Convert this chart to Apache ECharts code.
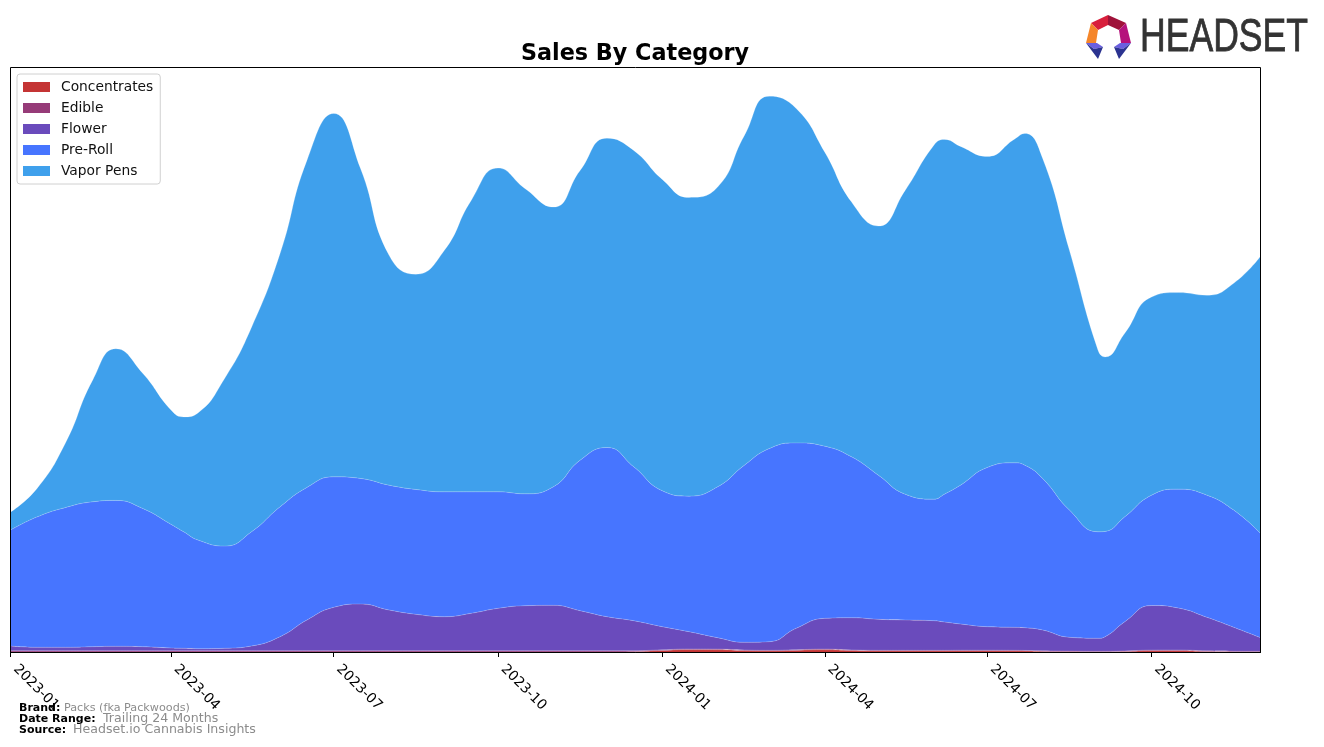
<!DOCTYPE html>
<html>
<head>
<meta charset="utf-8">
<title>Sales By Category</title>
<style>
  html, body { margin: 0; padding: 0; background: #fff; }
  #chart { width: 1324px; height: 747px; }
</style>
</head>
<body>
<div id="chart"></div>
<script src="https://cdn.jsdelivr.net/npm/echarts@6/dist/echarts.min.js"></script>
<script>
const dates = [
  '2023-01-01', '2023-01-16', '2023-02-01', '2023-02-16', '2023-03-01', '2023-03-16', '2023-04-01', '2023-04-08', '2023-04-16',
  '2023-05-01', '2023-05-16', '2023-06-01', '2023-06-16', '2023-07-01', '2023-07-16', '2023-08-01', '2023-08-16',
  '2023-09-01', '2023-09-16', '2023-10-01', '2023-10-16', '2023-11-01', '2023-11-16', '2023-12-01', '2023-12-16',
  '2024-01-01', '2024-01-16', '2024-02-01', '2024-02-16', '2024-03-01', '2024-03-16', '2024-04-01', '2024-04-16',
  '2024-05-01', '2024-05-16', '2024-06-01', '2024-06-07', '2024-06-16', '2024-07-01', '2024-07-16', '2024-07-22', '2024-08-01',
  '2024-08-16', '2024-09-01', '2024-09-05', '2024-09-16', '2024-10-01', '2024-10-16', '2024-11-01', '2024-11-16',
  '2024-12-01'
]
const tickMonths = ['2023-01', '2023-04', '2023-07', '2023-10', '2024-01', '2024-04', '2024-07', '2024-10']

// No y scale in the picture, values are in chart height units
const concentrates = [
  0, 0, 0, 0, 0, 0, 0, 0, 0,
  0, 0, 0, 0, 0, 0, 0, 0,
  0, 0, 0, 0, 0, 0, 0, 0.3,
  1.5, 2.3, 2.2, 1.3, 1, 1.6, 2.2, 1.4,
  1, 1, 1, 1, 1.1, 1.1, 1, 0.9, 0.6,
  0.2, 0, 0, 0.4, 1.2, 1.3, 0.5, 0.1,
  0
]
const edible = [
  1.3, 1.3, 1.3, 1.3, 1.3, 1.3, 1.3, 1.3, 1.3,
  1.3, 1.3, 1.3, 1.3, 1.3, 1.3, 1.3, 1.3,
  1.3, 1.3, 1.3, 1.3, 1.3, 1.3, 1.3, 1,
  0.7, 0.7, 0.7, 0.7, 0.7, 0.7, 0.7, 0.7,
  0.7, 0.7, 0.7, 0.7, 0.7, 0.7, 0.7, 0.7, 0.7,
  0.7, 0.7, 0.7, 0.7, 0.7, 0.7, 0.7, 0.7,
  0.7
]
const flower = [
  4.7, 3.4, 3.4, 4, 4.4, 4, 2.7, 2.4, 2,
  2.4, 4.7, 14, 30.7, 43.4, 46.7, 40.7, 36.4,
  34, 37.4, 42.4, 45, 45.4, 40, 34, 30,
  23.1, 17.3, 11.4, 7.7, 8.6, 21.4, 30.8, 32.2,
  31, 30.3, 29.6, 28.3, 26.2, 23.5, 23, 22.7, 20.7,
  13.8, 13, 14.6, 29.2, 44.6, 42, 33.5, 23.9,
  13.6
]
const preRoll = [
  116, 130.6, 140, 145, 146, 138.4, 123.7, 116.6, 108.7,
  102.3, 114.3, 130, 132.7, 130.6, 125.7, 125, 125,
  125, 121.6, 116.6, 112, 118.6, 150.7, 169.4, 154,
  136, 135.7, 151, 177.3, 193.4, 185.6, 172.3, 161,
  144.3, 126, 121.7, 128, 139, 159.4, 164.6, 162.7, 151.7,
  127.3, 106.6, 105.4, 105, 110.5, 119, 122.3, 117.3,
  104.4
]
const vaporPens = [
  18, 28.7, 65.3, 121.7, 151.8, 135.3, 114.3, 115, 127.3,
  168, 204.7, 253.7, 327.3, 363.7, 310.3, 230, 215.3,
  241.7, 291.7, 324, 305.7, 280, 290, 309.6, 316.7,
  311.7, 299, 300, 330, 352.6, 334.7, 294.3, 255,
  249.3, 304, 354, 355, 339, 311.3, 323.7, 332, 320.3,
  260, 181.7, 174.6, 183.7, 198.3, 196.7, 200, 227,
  277.3
]

const COLORS = {
  Concentrates: '#c43434',
  Edible: '#963b78',
  Flower: '#6a4bbc',
  'Pre-Roll': '#4775ff',
  'Vapor Pens': '#3fa0ec',
}
const FONT = '"DejaVu Sans", sans-serif'

const toMs = (d) => Date.parse(d + 'T00:00:00Z')
const tickValues = tickMonths.map((m) => toMs(m + '-01'))
const xMin = toMs(dates[0])
const xMax = toMs(dates[dates.length - 1])

function makeSeries(name, values) {
  return {
    name,
    type: 'line',
    stack: 'sales',
    smooth: 0.5,
    showSymbol: false,
    silent: true,
    itemStyle: { color: COLORS[name] },
    lineStyle: { width: 0.8, color: 'rgba(255,255,255,0.25)' },
    areaStyle: { color: COLORS[name], opacity: 1 },
    data: values.map((v, i) => [toMs(dates[i]), v]),
  }
}

// Footer text, one label and one value per row
function footerText(text, x, y, size, bold) {
  return {
    type: 'text',
    x,
    y,
    z: 200,
    style: {
      text,
      fontFamily: FONT,
      fontSize: size,
      fontWeight: bold ? 'bold' : 'normal',
      fill: bold ? '#000' : '#8c8c8c',
      textVerticalAlign: 'middle',
    },
  }
}

function logoPiece(points, fill) {
  return { type: 'polygon', z: 200, shape: { points }, style: { fill } }
}

const chart = echarts.init(document.getElementById('chart'))
chart.setOption({
  animation: false,
  backgroundColor: '#fff',
  title: {
    text: 'Sales By Category',
    left: 630,
    top: 38,
    textAlign: 'center',
    textStyle: { fontFamily: FONT, fontSize: 22.3, fontWeight: 'bold', color: '#000' },
  },
  legend: {
    orient: 'vertical',
    left: 17,
    top: 74,
    padding: [6, 7, 6, 6],
    itemWidth: 27,
    itemHeight: 10,
    itemGap: 7,
    icon: 'rect',
    borderColor: '#d0d0d0',
    borderWidth: 1,
    borderRadius: 3,
    backgroundColor: 'rgba(255,255,255,0.85)',
    textStyle: { fontFamily: FONT, fontSize: 13.8, color: '#111', padding: [0, 0, 0, 6] },
    data: ['Concentrates', 'Edible', 'Flower', 'Pre-Roll', 'Vapor Pens'],
  },
  grid: { left: 10.5, right: 63.5, top: 67.5, bottom: 95 },
  xAxis: [
    // stacking needs a time axis, but its customValues throw, so the ticks live on a second axis
    { type: 'time', min: xMin, max: xMax, show: false },
    {
      type: 'value',
      position: 'bottom',
      min: xMin,
      max: xMax,
      splitLine: { show: false },
      axisLine: { show: true, onZero: false, lineStyle: { color: '#000', width: 1 } },
      axisTick: {
        show: true,
        length: 5,
        lineStyle: { color: '#000', width: 1 },
        customValues: tickValues,
      },
      axisLabel: {
        show: true,
        rotate: -45,
        margin: 10,
        padding: [0, 0, 0, 7],
        fontFamily: FONT,
        fontSize: 13.9,
        color: '#000',
        customValues: tickValues,
        formatter: (v) => new Date(v).toISOString().slice(0, 7),
      },
    },
  ],
  yAxis: { type: 'value', min: 0, max: 585, show: false },
  series: [
    makeSeries('Concentrates', concentrates),
    makeSeries('Edible', edible),
    makeSeries('Flower', flower),
    makeSeries('Pre-Roll', preRoll),
    makeSeries('Vapor Pens', vaporPens),
  ],
  graphic: [
    // plot frame sits above the areas
    {
      type: 'rect',
      z: 100,
      silent: true,
      shape: { x: 10.5, y: 67.5, width: 1250, height: 585 },
      style: { fill: 'transparent', stroke: '#000', lineWidth: 1 },
    },
    footerText('Brand:', 19, 708, 11, true),
    footerText('Packs (fka Packwoods)', 64, 708, 11.2, false),
    footerText('Date Range:', 19, 719, 11, true),
    footerText('Trailing 24 Months', 103, 719, 12.6, false),
    footerText('Source:', 19, 730, 11, true),
    footerText('Headset.io Cannabis Insights', 73, 730, 12.6, false),
    // Headset logo
    logoPiece([[1091, 23], [1108, 15], [1108, 25], [1098, 30]], '#d81f3c'),
    logoPiece([[1108, 15], [1126, 23], [1119, 30], [1108, 25]], '#9f1239'),
    logoPiece([[1091, 23], [1098, 30], [1096, 43], [1086, 43]], '#f5862a'),
    logoPiece([[1126, 23], [1131, 43], [1121, 43], [1119, 30]], '#b5127c'),
    logoPiece([[1086, 43], [1097, 43], [1103, 47], [1094, 49]], '#6a5fe0'),
    logoPiece([[1086, 43], [1094, 49], [1103, 47], [1098, 59]], '#2b3390'),
    logoPiece([[1131, 43], [1120, 43], [1114, 47], [1123, 49]], '#6a5fe0'),
    logoPiece([[1131, 43], [1123, 49], [1114, 47], [1119, 59]], '#2b3390'),
    {
      type: 'text',
      x: 1140,
      y: 38,
      z: 200,
      scaleX: 0.757,
      style: {
        text: 'HEADSET',
        fontFamily: '"Liberation Sans", sans-serif',
        fontSize: 47,
        fill: '#333',
        stroke: '#333',
        lineWidth: 0.8,
        textVerticalAlign: 'middle',
      },
    },
  ],
})
</script>
</body>
</html>
